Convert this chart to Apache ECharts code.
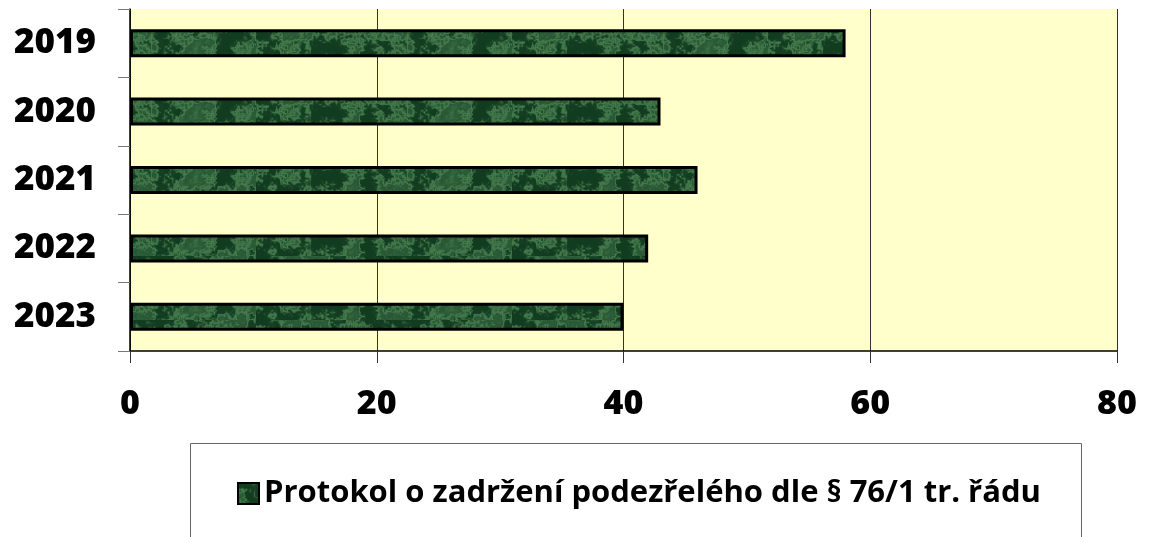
<!DOCTYPE html>
<html>
<head>
<meta charset="utf-8">
<script src="https://cdn.jsdelivr.net/npm/echarts@6/dist/echarts.min.js"></script>
<style>
  html, body { margin: 0; padding: 0; background: #fff; }
  #chart { width: 1149px; height: 537px; }
</style>
</head>
<body>
<div id="chart"></div>
<script>
const years = ['2019', '2020', '2021', '2022', '2023']
const values = [58, 43, 46, 42, 40]
const xTicks = [0, 20, 40, 60, 80]
const seriesName = 'Protokol o zadržení podezřelého dle § 76/1 tr. řádu'

// mottled green texture, like the Office "green marble" fill
function hash(x, y) {
    const h = Math.sin(x * 127.1 + y * 311.7) * 43758.5453
    return h - Math.floor(h)
}
function smoothNoise(x, y, s) {
    const gx = x / s, gy = y / s
    const x0 = Math.floor(gx), y0 = Math.floor(gy)
    const fx = gx - x0, fy = gy - y0
    const ux = fx * fx * (3 - 2 * fx), uy = fy * fy * (3 - 2 * fy)
    const a = hash(x0, y0), b = hash(x0 + 1, y0)
    const c = hash(x0, y0 + 1), d = hash(x0 + 1, y0 + 1)
    return a + (b - a) * ux + (c - a) * uy + (a - b - c + d) * ux * uy
}
function makeTexture() {
    const c = document.createElement('canvas')
    c.width = 256
    c.height = 64
    const ctx = c.getContext('2d')
    const img = ctx.createImageData(c.width, c.height)
    for (let y = 0; y < c.height; y++) {
        for (let x = 0; x < c.width; x++) {
            let n = smoothNoise(x, y, 16) * 0.5 + smoothNoise(x + 50, y, 6) * 0.3 + smoothNoise(x, y + 30, 2) * 0.2
            // veins: light where noise crosses a band
            const vein = Math.max(0, 1 - Math.abs(n - 0.55) * 9)
            const t = Math.max(0, Math.min(1, (n - 0.35) * 0.8 + vein * 0.45))
            const i = (y * c.width + x) * 4
            img.data[i] = 18 + t * 85
            img.data[i + 1] = 60 + t * 105
            img.data[i + 2] = 32 + t * 75
            img.data[i + 3] = 255
        }
    }
    ctx.putImageData(img, 0, 0)
    return c
}
const texture = makeTexture()
const font = '"Open Sans", Lato, sans-serif'

const chart = echarts.init(document.getElementById('chart'))
chart.setOption({
    animation: false,
    grid: {
        left: 130, right: 32, top: 9, bottom: 186,
        show: true, backgroundColor: '#FFFFCC', borderWidth: 0
    },
    xAxis: {
        type: 'value',
        min: 0, max: 80, interval: 20,
        axisLine: { show: true, lineStyle: { color: '#000', width: 1.5 } },
        axisTick: { show: true, length: 12, lineStyle: { color: '#333' } },
        splitLine: { show: true, lineStyle: { color: '#333', width: 1 } },
        axisLabel: {
            margin: 36, fontSize: 34, fontWeight: 800, color: '#000', fontFamily: font,
            formatter: (v) => xTicks.includes(v) ? String(v) : ''
        }
    },
    yAxis: {
        type: 'category',
        data: years,
        inverse: true,
        axisLine: { show: true, lineStyle: { color: '#000', width: 1.5 } },
        axisTick: { show: true, length: 12, lineStyle: { color: '#777' } },
        axisLabel: { margin: 34, fontSize: 35, fontWeight: 800, color: '#000', fontFamily: font }
    },
    legend: {
        left: 232, top: 473,
        itemWidth: 21, itemHeight: 21, itemGap: 6,
        icon: 'rect',
        textStyle: { fontSize: 31, fontWeight: 'bold', color: '#000', fontFamily: font },
        data: [seriesName]
    },
    graphic: [{
        type: 'rect',
        shape: { x: 190.5, y: 443.5, width: 891, height: 120 },
        style: { fill: 'none', stroke: '#666', lineWidth: 1 },
        silent: true, z: -1
    }],
    series: [{
        name: seriesName,
        type: 'bar',
        data: values,
        barWidth: 28,
        itemStyle: {
            color: { image: texture, repeat: 'repeat' },
            borderColor: '#000',
            borderWidth: 3
        }
    }]
})
</script>
</body>
</html>
